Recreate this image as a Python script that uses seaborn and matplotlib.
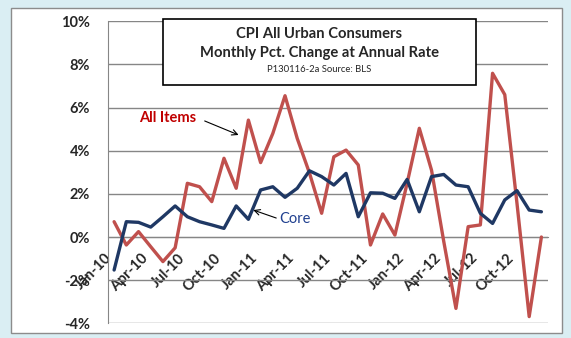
import matplotlib
matplotlib.use("Agg")
import matplotlib.pyplot as plt
import seaborn as sns
import pandas as pd
from matplotlib.patches import Rectangle

months = list(pd.date_range("2010-01-01", periods=36, freq="MS").strftime("%b-%y"))
all_items = [0.71, -0.37, 0.25, -0.45, -1.14, -0.50, 2.49, 2.33, 1.64, 3.65, 2.26, 5.42,
             3.45, 4.80, 6.55, 4.57, 2.97, 1.10, 3.72, 4.03, 3.34, -0.37, 1.07, 0.09,
             2.49, 5.04, 3.10, -0.20, -3.31, 0.48, 0.56, 7.59, 6.60, 1.56, -3.69, 0.00]
core = [-1.53, 0.71, 0.68, 0.46, 0.94, 1.44, 0.94, 0.71, 0.56, 0.40, 1.44, 0.82,
        2.18, 2.33, 1.84, 2.26, 3.07, 2.80, 2.41, 2.95, 0.94, 2.05, 2.03, 1.79,
        2.67, 1.17, 2.80, 2.90, 2.41, 2.33, 1.10, 0.63, 1.72, 2.15, 1.25, 1.17]
tick_labels = ["Jan-10", "Apr-10", "Jul-10", "Oct-10", "Jan-11", "Apr-11", "Jul-11", "Oct-11",
               "Jan-12", "Apr-12", "Jul-12", "Oct-12"]
y_ticks = [-4, -2, 0, 2, 4, 6, 8, 10]

df = pd.DataFrame({"idx": range(len(months)), "month": months,
                   "All Items": all_items, "Core": core})

sns.set_style("white")
plt.rcParams["font.family"] = ["Lato", "DejaVu Sans"]

W, H = 571, 338
fig = plt.figure(figsize=(W / 100, H / 100), dpi=100)
fig.patch.set_facecolor("#DAEEF3")
fig.patches.append(Rectangle((11 / W, 1 - 333 / H), 551 / W, 325 / H, transform=fig.transFigure,
                             facecolor="white", edgecolor="#8C8C8C", linewidth=1.0, zorder=-1))

ax = fig.add_axes([108 / W, 1 - 323.3 / H, (547.5 - 108) / W, (323.3 - 21.3) / H])
ax.set_facecolor("none")
ax.set_zorder(1)

sns.lineplot(data=df, x="idx", y="All Items", ax=ax, color="#C0504D", linewidth=2.4, zorder=3)
sns.lineplot(data=df, x="idx", y="Core", ax=ax, color="#1F3864", linewidth=2.4, zorder=4)

for s in ["top", "right"]:
    ax.spines[s].set_visible(False)
ax.spines["left"].set_color("#868686")
ax.spines["bottom"].set_color("#868686")
ax.spines["bottom"].set_position(("data", 0))
ax.spines["bottom"].set_zorder(2)

ax.set_xlim(-0.5, len(months) - 0.5)
ax.set_ylim(-4, 10)
ax.set_xlabel("")
ax.set_ylabel("")

ax.set_yticks(y_ticks)
ax.set_yticklabels([f"{v}%" for v in y_ticks], fontsize=10.5, fontweight="bold")
ax.yaxis.grid(True, color="#868686", linewidth=1.0)
ax.tick_params(axis="y", length=4, width=1, color="#868686", direction="out", pad=9)

ax.set_xticks(range(0, len(months), 3))
ax.set_xticklabels(tick_labels, rotation=45, ha="right", va="top", fontsize=10.5,
                   fontweight="bold")
ax.set_xticks([b - 0.5 for b in range(3, len(months) + 1, 3)], minor=True)
ax.tick_params(axis="x", which="major", length=0, pad=10)
ax.tick_params(axis="x", which="minor", length=4, width=1, color="#868686", direction="out")

# Title box
fig.patches.append(Rectangle((163 / W, 1 - 85 / H), (476 - 163) / W, (85 - 19.3) / H,
                             transform=fig.transFigure, facecolor="white", edgecolor="black",
                             linewidth=1.2, zorder=5))
cx = 319.5 / W
fig.text(cx, 1 - 33.5 / H, "CPI All Urban Consumers", ha="center", va="center",
         fontsize=10.6, fontweight="bold", zorder=6)
fig.text(cx, 1 - 53 / H, "Monthly Pct. Change at Annual Rate", ha="center", va="center",
         fontsize=10.6, fontweight="bold", zorder=6)
fig.text(cx, 1 - 69.5 / H, "P130116-2a Source: BLS", ha="center", va="center",
         fontsize=6.8, zorder=6)

# Annotations
ax.text(4.4, 5.52, "All Items", ha="center", va="center",
        fontsize=10.5, fontweight="bold", color="#C00000", zorder=6)
ax.annotate("", xy=(10.2, 4.73), xytext=(7.42, 5.38),
            arrowprops=dict(arrowstyle="->", color="black", lw=0.8, shrinkA=0, shrinkB=0))
ax.text(14.8, 0.83, "Core", ha="center", va="center",
        fontsize=10.5, color="#1F3F8F", zorder=6)
ax.annotate("", xy=(11.4, 1.25), xytext=(13.28, 0.88),
            arrowprops=dict(arrowstyle="->", color="black", lw=0.8, shrinkA=0, shrinkB=0))

fig.savefig("out.png", dpi=100, facecolor=fig.get_facecolor())
